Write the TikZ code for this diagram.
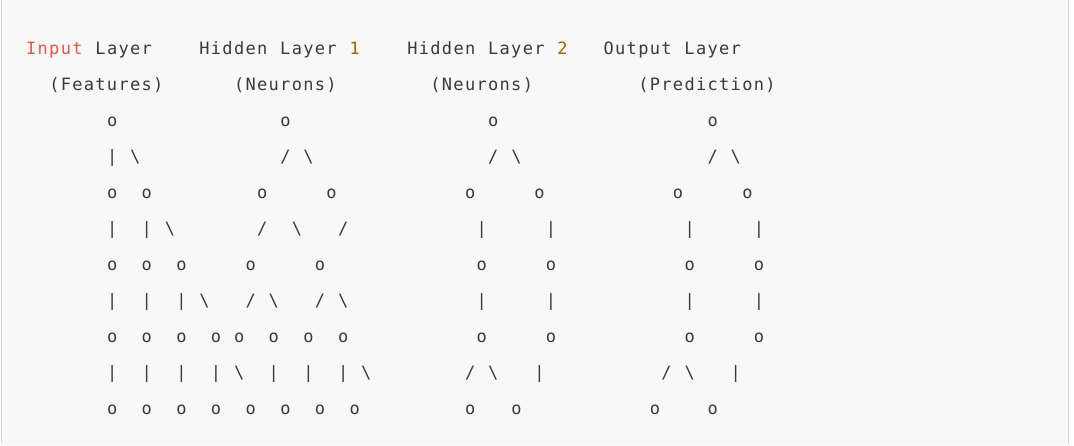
\documentclass[tikz,border=0pt]{standalone}
\usepackage{fontspec}
\newfontfamily\codefont{DejaVu Sans Mono}
\definecolor{codefg}{HTML}{383A42}
\definecolor{codered}{HTML}{E45649}
\definecolor{codenum}{HTML}{986801}
\definecolor{codebg}{HTML}{F8F8F8}
\definecolor{codeborder}{HTML}{D4D4D4}
\ExplSyntaxOn
\dim_new:N \l_cell_dim
\dim_set:Nn \l_cell_dim {11.55pt}
\NewDocumentCommand\codeline{m}{
  \tl_map_inline:nn {#1} {
    \str_if_eq:nnTF {##1}{.}
      {\hbox_to_wd:nn {\l_cell_dim}{}}
      {\hbox_to_wd:nn {\l_cell_dim}{\hfil ##1\hfil}}
  }
}
\ExplSyntaxOff
\newcommand\colx[1]{25.5+#1*11.55}
\newcommand\liney[1]{126.3+36.05*(#1-2)}
\tikzset{
  codefontstyle/.style={font=\codefont\fontsize{17}{20}\selectfont},
  txt/.style={codefontstyle, inner sep=0pt, outer sep=0pt, anchor=base west, text=codefg},
  glyph/.style={codefontstyle, inner sep=0pt, outer sep=0pt, anchor=base, text=codefg},
}
\newcommand\gl[3]{\node[glyph] (n-#1-#2) at ({\colx{#2}+5.775},{\liney{#1}}) {#3};}
\begin{document}
\begin{tikzpicture}[x=1pt,y=-1pt]
\useasboundingbox (0,0) rectangle (1074,445);
\fill[white] (0,0) rectangle (1074,445);
\fill[codebg] (1.5,0) rectangle (1068.5,445);
\draw[codeborder, line width=1pt] (1.5,0) -- (1.5,443);
\draw[codeborder, line width=1pt] (1068.5,0) -- (1068.5,443);
% titles
\node[txt, text=codered] (t-in) at ({\colx{0}},{\liney{0}}) {\codeline{Input}};
\node[txt] (t-inl) at ({\colx{6}},{\liney{0}}) {\codeline{Layer}};
\node[txt] (t-h1) at ({\colx{15}},{\liney{0}}) {\codeline{Hidden.Layer}};
\node[txt, text=codenum] (t-h1n) at ({\colx{28}},{\liney{0}}) {\codeline{1}};
\node[txt] (t-h2) at ({\colx{33}},{\liney{0}}) {\codeline{Hidden.Layer}};
\node[txt, text=codenum] (t-h2n) at ({\colx{46}},{\liney{0}}) {\codeline{2}};
\node[txt] (t-out) at ({\colx{50}},{\liney{0}}) {\codeline{Output.Layer}};
% subtitles
\node[txt] (s-in) at ({\colx{2}},{\liney{1}}) {\codeline{(Features)}};
\node[txt] (s-h1) at ({\colx{18}},{\liney{1}}) {\codeline{(Neurons)}};
\node[txt] (s-h2) at ({\colx{35}},{\liney{1}}) {\codeline{(Neurons)}};
\node[txt] (s-out) at ({\colx{53}},{\liney{1}}) {\codeline{(Prediction)}};
% line 2
\foreach \c in {7,22,40,59} {\gl{2}{\c}{o}}
% line 3
\foreach \c in {7} {\gl{3}{\c}{|}}
\foreach \c in {22,40,59} {\gl{3}{\c}{/}}
\foreach \c in {9,24,42,61} {\gl{3}{\c}{\textbackslash}}
% line 4
\foreach \c in {7,10,20,26,38,44,56,62} {\gl{4}{\c}{o}}
% line 5
\foreach \c in {7,10,39,45,57,63} {\gl{5}{\c}{|}}
\foreach \c in {20,27} {\gl{5}{\c}{/}}
\foreach \c in {12,23} {\gl{5}{\c}{\textbackslash}}
% line 6
\foreach \c in {7,10,13,19,25,39,45,57,63} {\gl{6}{\c}{o}}
% line 7
\foreach \c in {7,10,13,39,45,57,63} {\gl{7}{\c}{|}}
\foreach \c in {19,25} {\gl{7}{\c}{/}}
\foreach \c in {15,21,27} {\gl{7}{\c}{\textbackslash}}
% line 8
\foreach \c in {7,10,13,16,18,21,24,27,39,45,57,63} {\gl{8}{\c}{o}}
% line 9
\foreach \c in {7,10,13,16,21,24,27,44,61} {\gl{9}{\c}{|}}
\foreach \c in {38,55} {\gl{9}{\c}{/}}
\foreach \c in {18,29,40,57} {\gl{9}{\c}{\textbackslash}}
% line 10
\foreach \c in {7,10,13,16,19,22,25,28,38,42,54,59} {\gl{10}{\c}{o}}
\end{tikzpicture}
\end{document}
